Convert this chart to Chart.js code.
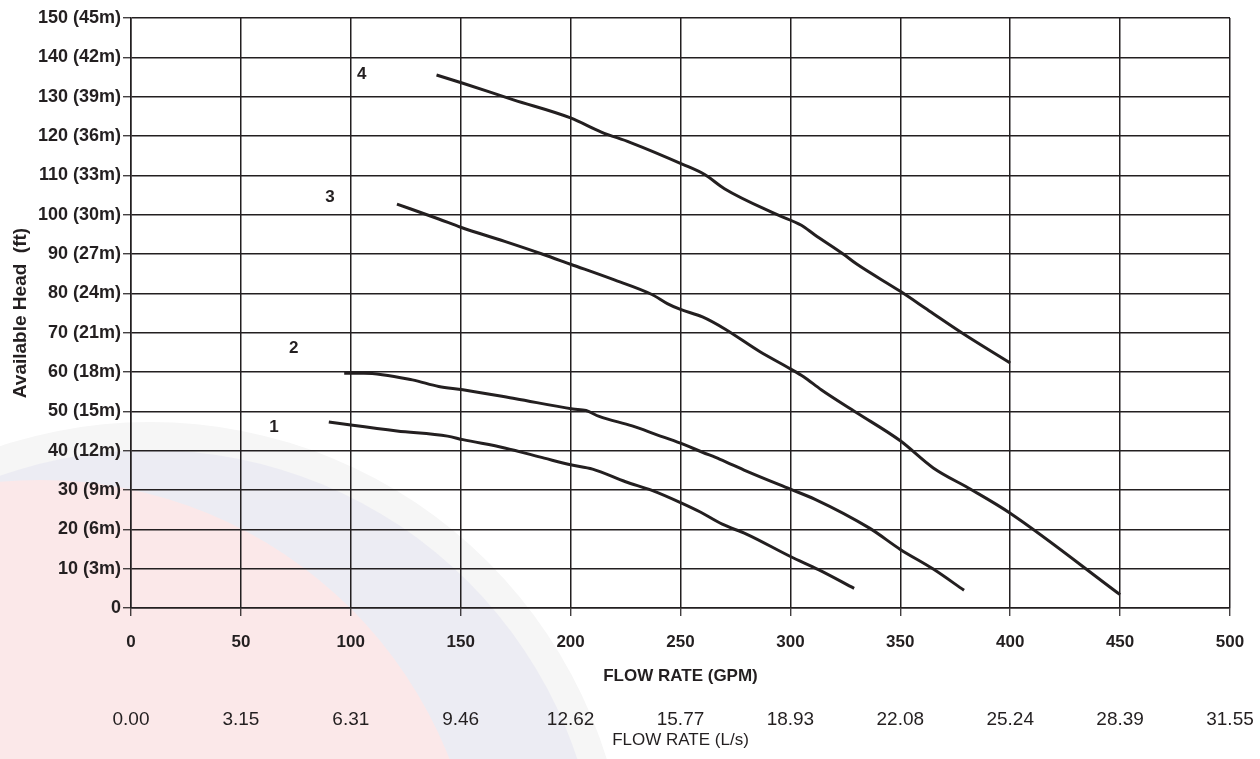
<!DOCTYPE html>
<html>
<head>
<meta charset="utf-8">
<script src="https://cdn.jsdelivr.net/npm/chart.js@4.4.1/dist/chart.umd.min.js"></script>
<style>
  html, body { margin: 0; padding: 0; background: #fff; }
</style>
</head>
<body>
<canvas id="pumpChart" width="1260" height="759"></canvas>
<script>
// pump curves: [GPM, ft]
const curve1 = [[90,47.3],[100,46.5],[121,45.0],[144,43.7],[151,42.8],[170,40.7],[188,38.1],[200,36.4],[210,35.3],[225,32.1],[237,29.9],[250,26.8],[259,24.4],[269,21.3],[280,18.8],[300,13.1],[313,9.7],[329,5.0]];
const curve2 = [[97,59.7],[106,59.7],[128,58.0],[140,56.3],[151,55.5],[175,53.2],[201,50.6],[207,50.2],[213,48.7],[228,46.3],[239,44.1],[250,41.9],[260,39.6],[268,37.8],[280,34.8],[300,30.2],[311,27.7],[336,20.3],[350,14.9],[365,9.9],[379,4.5]];
const curve3 = [[121,102.7],[140,98.9],[150,96.8],[170,93.2],[187,90.0],[200,87.4],[219,83.6],[237,79.7],[244,77.4],[250,75.9],[260,74.0],[270,71.0],[286,65.2],[300,60.8],[306,58.8],[314,55.5],[330,49.7],[350,42.5],[365,35.6],[382,30.2],[400,24.1],[450,3.4]];
const curve4 = [[139,135.5],[151,133.4],[174,129.2],[200,124.6],[214,121.0],[227,118.4],[251,112.8],[261,110.2],[270,106.6],[294,100.0],[305,97.3],[311,94.9],[324,90.0],[330,87.5],[350,80.5],[363,75.6],[379,69.6],[400,62.3]];

// curve number tags, placed in data units
const curveTags = ["1", "2", "3", "4"];
const tagSpots = [[65, 46.0], [74, 65.9], [90.5, 104.5], [105, 135.7]];

const yTickLabels = ["0", "10 (3m)", "20 (6m)", "30 (9m)", "40 (12m)", "50 (15m)", "60 (18m)", "70 (21m)",
  "80 (24m)", "90 (27m)", "100 (30m)", "110 (33m)", "120 (36m)", "130 (39m)", "140 (42m)", "150 (45m)"];
const lpsLabels = ["0.00", "3.15", "6.31", "9.46", "12.62", "15.77", "18.93", "22.08", "25.24", "28.39", "31.55"];

const INK = "#231f20";
const FONT = "'Liberation Sans', Arial, Helvetica, sans-serif";

function toPoints(rows) {
  return rows.map(r => ({ x: r[0], y: r[1] }));
}

function curveDataset(rows) {
  return {
    data: toPoints(rows),
    borderColor: INK,
    borderWidth: 3,
    pointRadius: 0,
    cubicInterpolationMode: "monotone",
    fill: false
  };
}

// faint logo in the background, lower left
const watermark = {
  id: "watermark",
  beforeDraw(chart) {
    const ctx = chart.ctx;
    ctx.save();
    ctx.fillStyle = "#fff";
    ctx.fillRect(0, 0, chart.width, chart.height);

    ctx.beginPath();
    ctx.arc(150, 900, 478, 0, Math.PI * 2);
    ctx.fillStyle = "#f6f6f6";
    ctx.fill();

    ctx.beginPath();
    ctx.arc(150, 900, 450, 0, Math.PI * 2);
    ctx.fillStyle = "#ececf3";
    ctx.fill();
    ctx.clip();

    ctx.beginPath();
    ctx.arc(40, 920, 440, 0, Math.PI * 2);
    ctx.fillStyle = "#fbe8e9";
    ctx.fill();
    ctx.restore();
  }
};

// the "1".."4" tags next to each curve
const curveTagPlugin = {
  id: "curveTags",
  afterDatasetsDraw(chart) {
    const { ctx, scales: { x, y } } = chart;
    ctx.save();
    ctx.fillStyle = INK;
    ctx.textAlign = "center";
    ctx.textBaseline = "middle";
    ctx.font = "bold 17px " + FONT;
    curveTags.forEach((t, i) => {
      const [gx, gy] = tagSpots[i];
      ctx.fillText(t, x.getPixelForValue(gx), y.getPixelForValue(gy));
    });
    ctx.restore();
  }
};

const gridStyle = {
  color: INK,
  lineWidth: 1.5,
  tickLength: 8,
  tickColor: INK,
  tickWidth: 1.2
};

// labels may hang past the plot edge, don't let them shrink it
function fixBottomAxis(h) {
  return (s) => {
    s.height = h;
    s.paddingLeft = 0;
    s.paddingRight = 0;
  };
}

new Chart(document.getElementById("pumpChart"), {
  type: "line",
  data: {
    datasets: [curveDataset(curve1), curveDataset(curve2), curveDataset(curve3), curveDataset(curve4)]
  },
  options: {
    responsive: false,
    animation: false,
    layout: { padding: { top: 18, right: 30, bottom: 8, left: 0 } },
    plugins: {
      legend: { display: false },
      tooltip: { enabled: false }
    },
    scales: {
      x: {
        type: "linear",
        position: "bottom",
        weight: 0,
        min: 0,
        max: 500,
        grid: gridStyle,
        border: { color: INK, width: 1.5 },
        ticks: {
          stepSize: 50,
          autoSkip: false,
          maxRotation: 0,
          padding: 16,
          color: INK,
          font: { family: FONT, size: 17, weight: "bold" }
        },
        title: {
          display: true,
          text: "FLOW RATE (GPM)",
          color: INK,
          padding: { top: 0, bottom: 0 },
          font: { family: FONT, size: 17, weight: "bold" }
        },
        afterFit: fixBottomAxis(79)
      },
      x2: {
        type: "linear",
        position: "bottom",
        weight: 1,
        min: 0,
        max: 500,
        grid: { display: false, drawTicks: false },
        border: { display: false },
        ticks: {
          stepSize: 50,
          autoSkip: false,
          maxRotation: 0,
          padding: 21,
          color: INK,
          font: { family: FONT, size: 19 },
          callback: (v) => lpsLabels[Math.round(v / 50)]
        },
        title: {
          display: true,
          text: "FLOW RATE (L/s)",
          color: INK,
          padding: { top: 0, bottom: 0 },
          font: { family: FONT, size: 17 }
        },
        afterFit: fixBottomAxis(64)
      },
      y: {
        type: "linear",
        min: 0,
        max: 150,
        grid: gridStyle,
        border: { color: INK, width: 1.5 },
        ticks: {
          stepSize: 10,
          autoSkip: false,
          padding: 2,
          color: INK,
          font: { family: FONT, size: 18, weight: "bold" },
          callback: (v) => yTickLabels[Math.round(v / 10)]
        },
        title: {
          display: true,
          text: "Available Head  (ft)",
          color: INK,
          padding: { top: 9, bottom: 0 },
          font: { family: FONT, size: 19, weight: "bold" }
        },
        afterFit(s) { s.width = 131; }
      }
    }
  },
  plugins: [watermark, curveTagPlugin]
});
</script>
</body>
</html>
